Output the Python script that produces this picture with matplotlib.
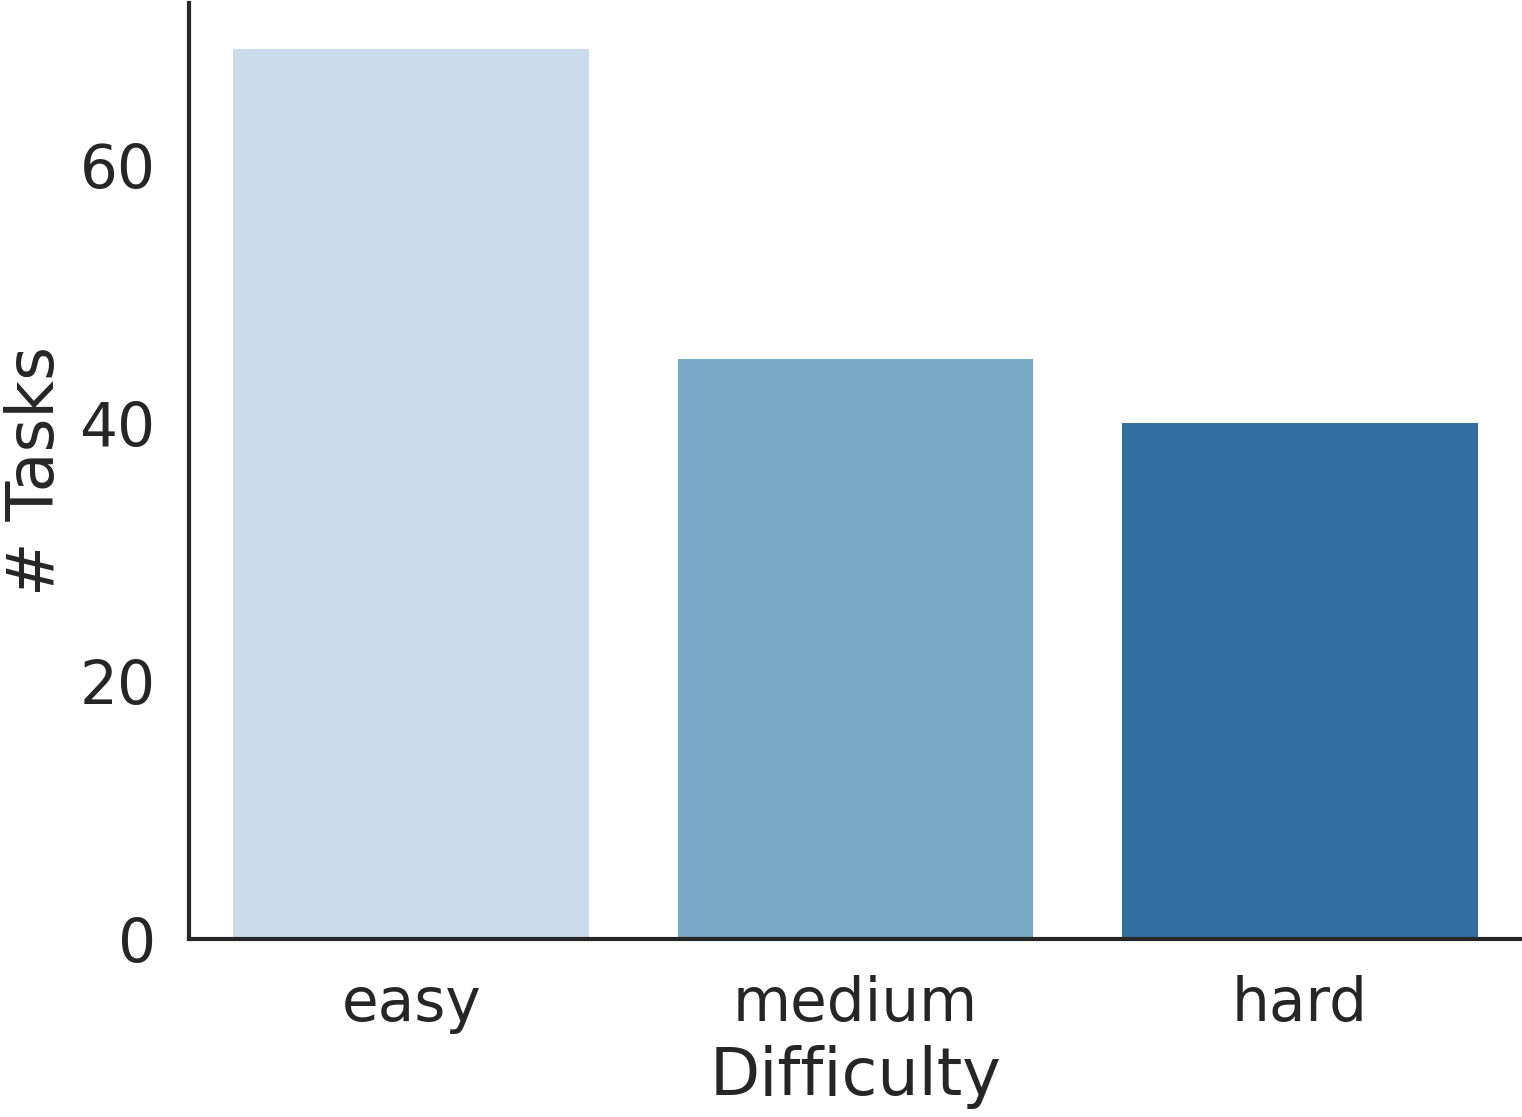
import matplotlib
matplotlib.use("Agg")
import matplotlib.pyplot as plt

categories = ["easy", "medium", "hard"]
tasks = [69, 45, 40]
colors = ["#cbdbea", "#7aa9c8", "#336fa1"]
yticks = [0, 20, 40, 60]

plt.rcParams['font.family'] = ['DejaVu Sans']
fig = plt.figure(figsize=(15.22, 11.17), dpi=100)
ax = fig.add_axes([189/1522, 1 - 939/1117, 1 - 189/1522, (939 - 3)/1117])

x = list(range(len(categories)))
ax.bar(x, tasks, width=0.8, color=colors)
ax.set_xlim(-0.5, len(categories) - 0.5)
ax.set_ylim(0, 72.6)
ax.set_xticks(x)
ax.set_xticklabels(categories)
ax.set_yticks(yticks)
ax.tick_params(axis='x', labelsize=43, length=0, pad=26, colors='#262626')
ax.tick_params(axis='y', labelsize=43, length=0, pad=24, colors='#262626')
ax.set_xlabel("Difficulty", fontsize=47, color='#262626', labelpad=8)
ax.set_ylabel("# Tasks", fontsize=47, color='#262626', labelpad=8)
for s in ['top', 'right']:
    ax.spines[s].set_visible(False)
for s in ['left', 'bottom']:
    ax.spines[s].set_linewidth(3)
    ax.spines[s].set_color('#262626')

fig.savefig("out.png", dpi=100)
